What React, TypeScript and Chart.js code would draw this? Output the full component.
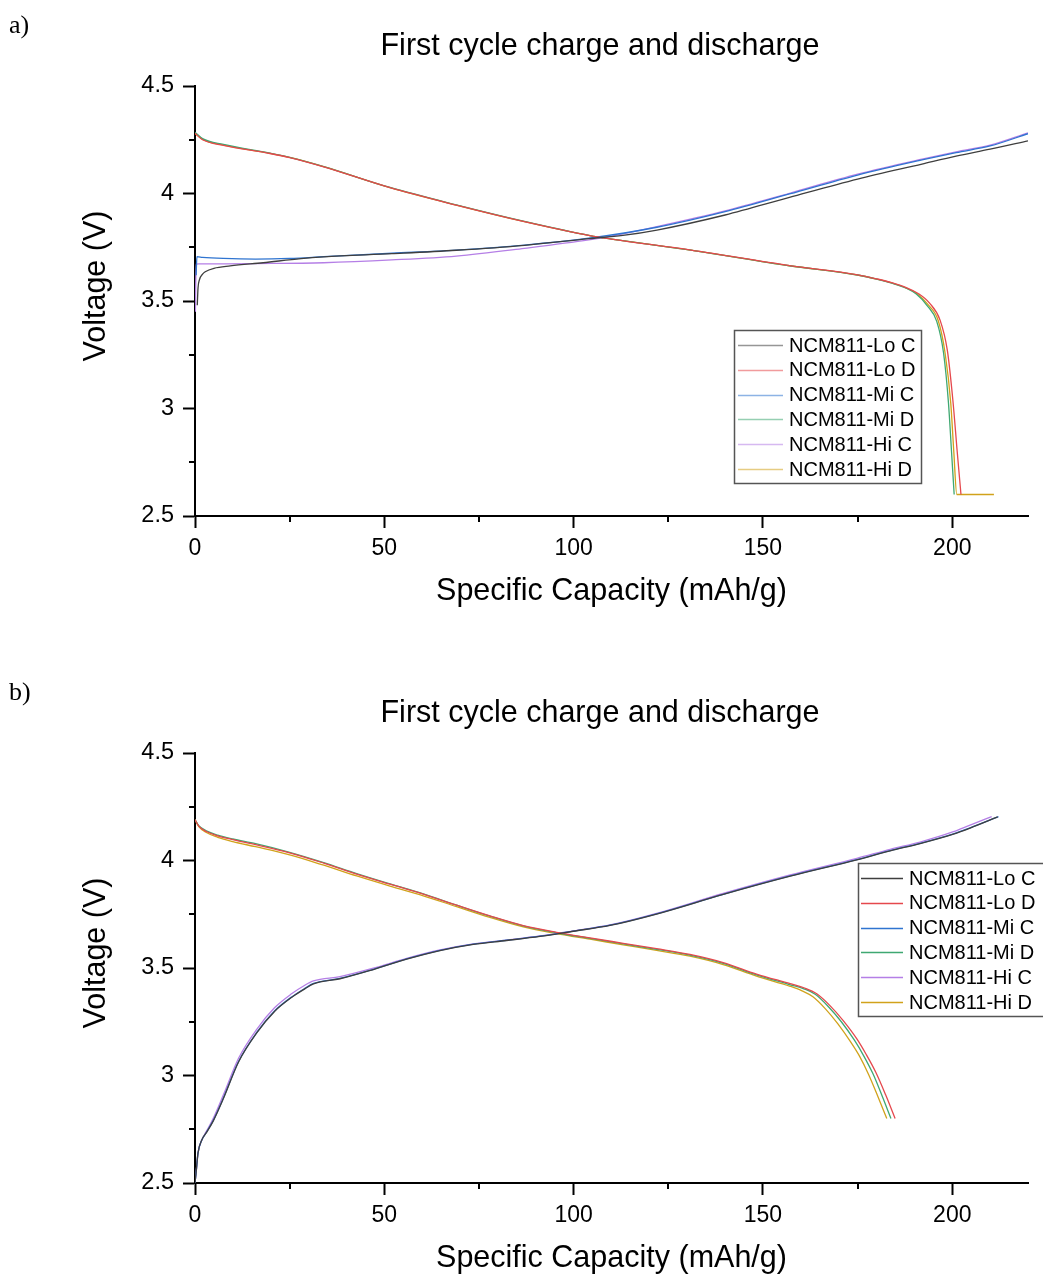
import React, { useEffect, useRef } from 'react';
import { Chart, registerables } from 'chart.js';
Chart.register(...registerables);

const FONT = "'Liberation Sans', Arial, Helvetica, sans-serif";

const seriesNames = ['NCM811-Lo C', 'NCM811-Lo D', 'NCM811-Mi C', 'NCM811-Mi D', 'NCM811-Hi C', 'NCM811-Hi D'];
const seriesColors = ['#3f3f3f', '#e5484d', '#2f74d0', '#3fa872', '#b57fe6', '#d1a21b'];

const xTicksMajor = [0, 50, 100, 150, 200];
const xTicksMinor = [25, 75, 125, 175];
const yTicksMajor = [2.5, 3, 3.5, 4, 4.5];
const yTicksMinor = [2.75, 3.25, 3.75, 4.25];

const chartTitle = 'First cycle charge and discharge';
const xAxisTitle = 'Specific Capacity (mAh/g)';
const yAxisTitle = 'Voltage (V)';

// ---------- Panel a ----------
const aLoC_x = [0.6, 0.8, 1.2, 2, 2.7, 5, 9.3, 18, 28, 34, 52, 69, 87, 104, 113, 122, 140, 157, 175, 192, 201, 210, 220];
const aLoC_y = [3.48, 3.56, 3.6, 3.625, 3.636, 3.652, 3.663, 3.678, 3.697, 3.705, 3.72, 3.736, 3.759, 3.79, 3.805, 3.83, 3.9, 3.982, 4.067, 4.137, 4.174, 4.206, 4.245];

const aLoD_x = [0, 2, 7.5, 19.8, 25, 34, 51.5, 69, 87, 104.3, 110, 131, 157, 175, 180, 184, 188, 191, 194, 196.8, 198.7, 200.2, 201.3, 202.3];
const aLoD_y = [4.28, 4.25, 4.224, 4.186, 4.167, 4.124, 4.027, 3.946, 3.869, 3.804, 3.788, 3.737, 3.665, 3.622, 3.603, 3.585, 3.561, 3.535, 3.49, 3.41, 3.27, 3.03, 2.8, 2.6];

const aMiC_x = [0.3, 0.5, 2, 7.5, 16, 25, 34, 52, 69, 87, 104, 122, 140, 157, 175, 192, 201, 210, 220];
const aMiC_y = [3.62, 3.706, 3.703, 3.698, 3.695, 3.698, 3.706, 3.722, 3.737, 3.76, 3.792, 3.843, 3.916, 3.998, 4.086, 4.156, 4.19, 4.221, 4.278];

const aMiD_x = [0, 2, 7.5, 19.8, 25, 34, 51.5, 69, 87, 104.3, 110, 131, 157, 175, 180, 184, 188, 190.5, 193.3, 195.9, 197.7, 199.0, 199.8, 200.5];
const aMiD_y = [4.285, 4.255, 4.228, 4.188, 4.168, 4.125, 4.028, 3.947, 3.87, 3.804, 3.788, 3.737, 3.664, 3.621, 3.602, 3.583, 3.558, 3.532, 3.48, 3.405, 3.258, 3.025, 2.8, 2.6];

const aHiC_x = [0.1, 0.3, 1, 7.5, 16, 34, 52, 69, 87, 104, 110, 122, 140, 157, 175, 192, 201, 210, 220];
const aHiC_y = [3.45, 3.672, 3.673, 3.673, 3.674, 3.678, 3.691, 3.709, 3.745, 3.784, 3.802, 3.846, 3.919, 4.001, 4.09, 4.16, 4.194, 4.225, 4.282];

const aHiD_x = [0, 2, 7.5, 19.8, 25, 34, 51.5, 69, 87, 104.3, 110, 131, 157, 175, 180, 184, 188, 190.8, 193.6, 196.3, 198.1, 199.6, 200.4, 201.2, 211];
const aHiD_y = [4.28, 4.252, 4.225, 4.187, 4.168, 4.125, 4.027, 3.946, 3.869, 3.804, 3.788, 3.737, 3.664, 3.621, 3.602, 3.584, 3.559, 3.533, 3.483, 3.408, 3.258, 3.025, 2.8, 2.6, 2.6];

// ---------- Panel b ----------
const bLoC_x = [0, 0.3, 0.8, 1.8, 3.0, 4.8, 7.5, 11.5, 16.3, 21, 25.5, 29, 31.3, 38.3, 47.1, 55.9, 64.7, 73.5, 82.3, 91.1, 99.9, 109.6, 121.9, 139.5, 157.2, 174.8, 183.6, 191.5, 200.3, 204.7, 212];
const bLoC_y = [2.5, 2.55, 2.64, 2.7, 2.734, 2.788, 2.893, 3.063, 3.198, 3.298, 3.363, 3.403, 3.426, 3.45, 3.493, 3.541, 3.581, 3.61, 3.628, 3.647, 3.671, 3.698, 3.751, 3.842, 3.927, 4.003, 4.045, 4.079, 4.123, 4.151, 4.203];

const bLoD_x = [0, 1, 3, 6, 10, 16, 25, 34, 42.7, 51.5, 60.3, 69.1, 77.9, 86.7, 95.5, 104.3, 113.1, 121.9, 130.7, 139.5, 148.3, 157.2, 161, 164.2, 167.7, 171.2, 174.8, 177.2, 179.8, 182.4, 184.9];
const bLoD_y = [4.19, 4.16, 4.135, 4.115, 4.097, 4.074, 4.036, 3.988, 3.937, 3.89, 3.844, 3.792, 3.742, 3.697, 3.666, 3.64, 3.615, 3.59, 3.563, 3.525, 3.472, 3.427, 3.407, 3.38, 3.325, 3.255, 3.17, 3.1, 3.015, 2.91, 2.8];

const bMiC_x = [0, 0.3, 0.8, 1.8, 3.0, 4.8, 7.5, 11.5, 16.3, 21, 25.5, 29, 31.3, 38.3, 47.1, 55.9, 64.7, 73.5, 82.3, 91.1, 99.9, 109.6, 121.9, 139.5, 157.2, 174.8, 183.6, 191.5, 200.3, 204.7, 212.2];
const bMiC_y = [2.5, 2.55, 2.64, 2.7, 2.735, 2.79, 2.895, 3.065, 3.2, 3.3, 3.365, 3.405, 3.428, 3.452, 3.494, 3.542, 3.582, 3.611, 3.629, 3.648, 3.672, 3.699, 3.752, 3.843, 3.928, 4.004, 4.046, 4.08, 4.124, 4.152, 4.204];

const bMiD_x = [0, 1, 3, 6, 10, 16, 25, 34, 42.7, 51.5, 60.3, 69.1, 77.9, 86.7, 95.5, 104.3, 113.1, 121.9, 130.7, 139.5, 148.3, 157.2, 160.8, 163.9, 167.3, 170.7, 174.2, 176.5, 179.0, 181.4, 183.8];
const bMiD_y = [4.19, 4.162, 4.138, 4.118, 4.1, 4.078, 4.038, 3.99, 3.939, 3.891, 3.845, 3.792, 3.741, 3.696, 3.664, 3.638, 3.612, 3.587, 3.56, 3.522, 3.468, 3.422, 3.403, 3.377, 3.32, 3.25, 3.163, 3.095, 3.01, 2.908, 2.8];

const bHiC_x = [0, 0.3, 0.8, 1.8, 3.0, 4.8, 7.5, 11.5, 16.3, 21, 25.5, 29, 31.3, 38.3, 47.1, 55.9, 64.7, 73.5, 82.3, 91.1, 99.9, 109.6, 121.9, 139.5, 157.2, 174.8, 183.6, 191.5, 200.3, 204.7, 210.4];
const bHiC_y = [2.5, 2.55, 2.64, 2.7, 2.74, 2.8, 2.91, 3.08, 3.215, 3.315, 3.38, 3.42, 3.44, 3.46, 3.499, 3.545, 3.584, 3.612, 3.63, 3.649, 3.673, 3.7, 3.754, 3.847, 3.933, 4.01, 4.052, 4.086, 4.134, 4.165, 4.204];

const bHiD_x = [0, 1, 3, 6, 10, 16, 25, 34, 42.7, 51.5, 60.3, 69.1, 77.9, 86.7, 95.5, 104.3, 113.1, 121.9, 130.7, 139.5, 148.3, 157.2, 160.2, 163.2, 166.5, 169.8, 173.2, 175.5, 177.9, 180.3, 182.7];
const bHiD_y = [4.19, 4.158, 4.13, 4.108, 4.088, 4.064, 4.026, 3.978, 3.928, 3.881, 3.836, 3.785, 3.735, 3.691, 3.66, 3.634, 3.608, 3.582, 3.555, 3.516, 3.462, 3.415, 3.395, 3.366, 3.31, 3.24, 3.155, 3.09, 3.005, 2.905, 2.8];

type PanelDef = {
  tag: string;
  top: number;
  xs: number[][];
  ys: number[][];
  legend: { x: number; y: number; w: number; h: number; row0: number; lineX0: number; lineX1: number; textX: number };
  legendAlpha: number;
};

const panels: PanelDef[] = [
  {
    tag: 'a)',
    top: 0,
    xs: [aLoC_x, aLoD_x, aMiC_x, aMiD_x, aHiC_x, aHiD_x],
    ys: [aLoC_y, aLoD_y, aMiC_y, aMiD_y, aHiC_y, aHiD_y],
    legend: { x: 734.5, y: 330.5, w: 187, h: 153, row0: 345, lineX0: 738, lineX1: 783, textX: 789 },
    legendAlpha: 0.55,
  },
  {
    tag: 'b)',
    top: 667,
    xs: [bLoC_x, bLoD_x, bMiC_x, bMiD_x, bHiC_x, bHiD_x],
    ys: [bLoC_y, bLoD_y, bMiC_y, bMiD_y, bHiC_y, bHiD_y],
    legend: { x: 858.5, y: 196.5, w: 190, h: 153, row0: 211, lineX0: 861, lineX1: 903, textX: 909 },
    legendAlpha: 1,
  },
];

function hexAlpha(hex: string, a: number) {
  const r = parseInt(hex.slice(1, 3), 16);
  const g = parseInt(hex.slice(3, 5), 16);
  const b = parseInt(hex.slice(5, 7), 16);
  return `rgba(${r},${g},${b},${a})`;
}

function makeDecor(p: PanelDef) {
  return {
    id: 'decor',
    afterDraw(chart: any) {
      const ctx = chart.ctx as CanvasRenderingContext2D;
      const xs = chart.scales.x;
      const ys = chart.scales.y;
      const area = chart.chartArea;
      ctx.save();
      // minor ticks
      ctx.strokeStyle = '#000';
      ctx.lineWidth = 2;
      ctx.beginPath();
      for (const v of xTicksMinor) {
        const px = Math.round(xs.getPixelForValue(v));
        ctx.moveTo(px, area.bottom);
        ctx.lineTo(px, area.bottom + 6);
      }
      for (const v of yTicksMinor) {
        const py = Math.round(ys.getPixelForValue(v));
        ctx.moveTo(area.left - 6, py);
        ctx.lineTo(area.left, py);
      }
      ctx.stroke();
      // title
      ctx.fillStyle = '#000';
      ctx.font = `30.5px ${FONT}`;
      ctx.textAlign = 'center';
      ctx.textBaseline = 'middle';
      ctx.fillText(chartTitle, 600, 47);
      // y axis title
      ctx.save();
      ctx.translate(97, 286);
      ctx.rotate(-Math.PI / 2);
      ctx.fillText(yAxisTitle, 0, 0);
      ctx.restore();
      // panel tag
      ctx.font = `26px 'Liberation Serif', 'Times New Roman', serif`;
      ctx.textAlign = 'left';
      ctx.fillText(p.tag, 9, 26);
      // legend
      const L = p.legend;
      ctx.strokeStyle = '#555';
      ctx.lineWidth = 1.5;
      ctx.strokeRect(L.x, L.y, L.w, L.h);
      ctx.font = `20px ${FONT}`;
      ctx.textBaseline = 'middle';
      chart.data.datasets.forEach((ds: any, i: number) => {
        const y = L.row0 + i * 24.8;
        ctx.strokeStyle = hexAlpha(seriesColors[i], p.legendAlpha);
        ctx.lineWidth = 1.5;
        ctx.beginPath();
        ctx.moveTo(L.lineX0, Math.round(y) + 0.5);
        ctx.lineTo(L.lineX1, Math.round(y) + 0.5);
        ctx.stroke();
        ctx.fillStyle = '#000';
        ctx.fillText(ds.label, L.textX, y + 1);
      });
      ctx.restore();
    },
  };
}

function Panel({ p }: { p: PanelDef }) {
  const ref = useRef<HTMLCanvasElement>(null);
  useEffect(() => {
    const datasets = seriesNames.map((name, i) => ({
      label: name,
      data: p.xs[i].map((x, j) => ({ x, y: p.ys[i][j] })),
      borderColor: seriesColors[i],
      backgroundColor: seriesColors[i],
      borderWidth: 1.3,
      pointRadius: 0,
      fill: false,
      cubicInterpolationMode: 'monotone' as const,
    }));
    const axisCommon = {
      grid: { drawOnChartArea: false, drawTicks: true, tickLength: 12, tickWidth: 2, tickColor: '#000' },
      border: { display: true, color: '#000', width: 2 },
    };
    const chart = new Chart(ref.current as HTMLCanvasElement, {
      type: 'line',
      data: { datasets },
      options: {
        responsive: false,
        animation: false,
        layout: { padding: { top: 86, right: 15, bottom: 0, left: 0 } },
        plugins: { legend: { display: false }, tooltip: { enabled: false }, title: { display: false } },
        scales: {
          x: {
            type: 'linear',
            min: 0,
            max: 220,
            afterFit: (s: any) => { s.height = 94; },
            afterBuildTicks: (s: any) => { s.ticks = xTicksMajor.map((v) => ({ value: v })); },
            ticks: { font: { family: FONT, size: 23 }, color: '#000', padding: 7, maxRotation: 0, autoSkip: false },
            title: { display: true, text: xAxisTitle, font: { family: FONT, size: 30.5 }, color: '#000', padding: { top: 0, bottom: 0 } },
            ...axisCommon,
          },
          y: {
            type: 'linear',
            min: 2.5,
            max: 4.5,
            afterFit: (s: any) => { s.width = 195; },
            afterBuildTicks: (s: any) => { s.ticks = yTicksMajor.map((v) => ({ value: v })); },
            ticks: { font: { family: FONT, size: 23.5 }, color: '#000', padding: 9, autoSkip: false, callback: (v: any) => String(v) },
            title: { display: false },
            ...axisCommon,
          },
        },
      },
      plugins: [makeDecor(p)],
    } as any);
    return () => chart.destroy();
  }, []);
  return (
    <canvas
      ref={ref}
      width={1043}
      height={610}
      style={{ position: 'absolute', left: 0, top: p.top, width: 1043, height: 610 }}
    />
  );
}

export default function App() {
  return (
    <div style={{ position: 'fixed', left: 0, top: 0, width: 1043, height: 1274, overflow: 'hidden', background: '#fff' }}>
      {panels.map((p) => (
        <Panel key={p.tag} p={p} />
      ))}
    </div>
  );
}
